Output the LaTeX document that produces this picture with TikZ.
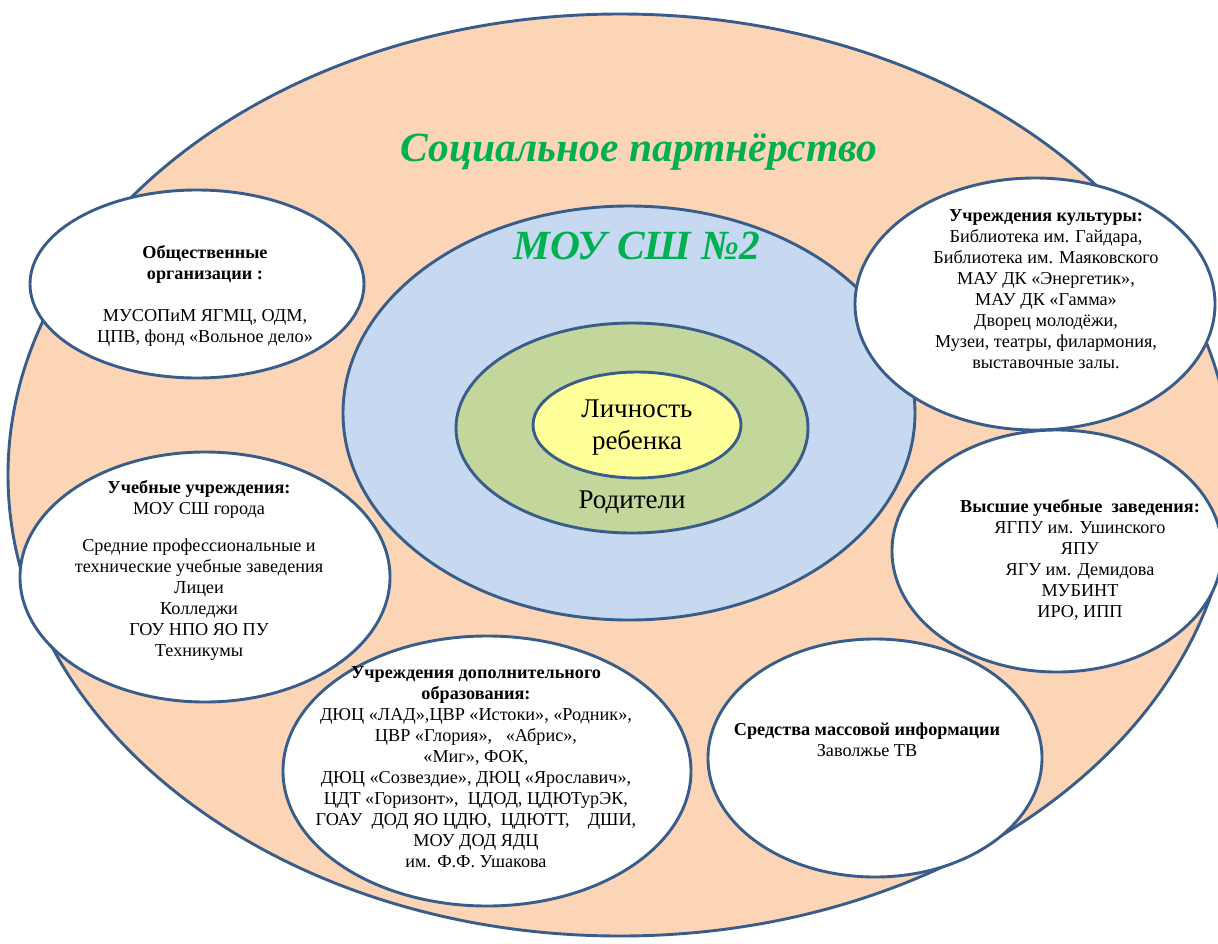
\documentclass[tikz,border=0pt]{standalone}
\usepackage{fontspec}
\setmainfont{Liberation Serif}
\usetikzlibrary{shapes.geometric}
\definecolor{peach}{HTML}{FBD5B5}
\definecolor{lblue}{HTML}{C6D9F1}
\definecolor{lgreen}{HTML}{C3D69B}
\definecolor{lyellow}{HTML}{FFFF99}
\definecolor{edgeblue}{HTML}{385D8A}
\definecolor{tgreen}{HTML}{00B050}
\begin{document}
\begin{tikzpicture}[x=1pt,y=-1pt,
  oval/.style={ellipse, draw=edgeblue, line width=2.9pt, inner sep=0pt, outer sep=0pt},
  wov/.style={oval, fill=white},
  body/.style={align=center, font=\fontsize{18.2}{21}\selectfont, inner sep=0pt, text=black},
  core/.style={align=center, font=\fontsize{27}{32}\selectfont, inner sep=0pt, text=black},
  headline/.style={font=\fontsize{41.5}{48}\selectfont\bfseries\itshape, text=tgreen, inner sep=0pt}]
\useasboundingbox (0,0) rectangle (1218,943);
% outer and concentric ellipses
\node[oval, fill=peach, minimum width=1224pt, minimum height=922pt] (outer) at (620,475) {};
\node[oval, fill=lblue, minimum width=572pt, minimum height=414pt] (school) at (629,413) {};
\node[oval, fill=lgreen, minimum width=352pt, minimum height=210pt] (parents) at (632,428) {};
\node[oval, fill=lyellow, minimum width=208pt, minimum height=106pt] (child) at (637,425) {};
% partner ellipses
\node[wov, minimum width=334pt, minimum height=188pt] (public) at (197,284) {};
\node[wov, minimum width=360pt, minimum height=252pt] (culture) at (1035,304) {};
\node[wov, minimum width=330pt, minimum height=242pt] (higher) at (1057,551) {};
\node[wov, minimum width=334pt, minimum height=238pt] (media) at (875,758) {};
\node[wov, minimum width=370pt, minimum height=250pt] (edu) at (205,577) {};
\node[wov, minimum width=408pt, minimum height=270pt] (extra) at (487,771) {};
% titles
\node[headline] (title) at (639,152) {Социальное партнёрство};
\node[headline] (schooltitle) at (637,246) {МОУ СШ №2};
\node[core] (childtxt) at (637,428) {Личность\\ребенка};
\node[core] (parenttxt) at (632,502) {Родители};
% texts
\node[body] (publictxt) at (205,296) {\textbf{Общественные}\\\textbf{организации :}\\[21pt]МУСОПиМ ЯГМЦ, ОДМ,\\ЦПВ, фонд «Вольное дело»};
\node[body] (culturetxt) at (1046,289) {\textbf{Учреждения культуры:}\\Библиотека им. Гайдара,\\Библиотека им. Маяковского\\МАУ ДК «Энергетик»,\\МАУ ДК «Гамма»\\Дворец молодёжи,\\Музеи, театры, филармония,\\выставочные залы.};
\node[body] (edutxt) at (199,570) {\textbf{Учебные учреждения:}\\МОУ СШ города\\[16pt]Средние профессиональные и\\технические учебные заведения\\Лицеи\\Колледжи\\ГОУ НПО ЯО ПУ\\Техникумы};
\node[body] (highertxt) at (1080,560) {\textbf{Высшие учебные\ \ заведения:}\\ЯГПУ им. Ушинского\\ЯПУ\\ЯГУ им. Демидова\\МУБИНТ\\ИРО, ИПП};
\node[body] (extratxt) at (476,767) {\textbf{Учреждения дополнительного}\\\textbf{образования:}\\ДЮЦ «ЛАД»,ЦВР «Истоки», «Родник»,\\ЦВР «Глория»,\ \ \ «Абрис»,\\«Миг», ФОК,\\ДЮЦ «Созвездие», ДЮЦ «Ярославич»,\\ЦДТ «Горизонт»,\ \ ЦДОД, ЦДЮТурЭК,\\ГОАУ\ \ ДОД ЯО ЦДЮ,\ \ ЦДЮТТ,\ \ \ \ ДШИ,\\МОУ ДОД ЯДЦ\\им. Ф.Ф. Ушакова};
\node[body] (mediatxt) at (867,740) {\textbf{Средства массовой информации}\\Заволжье ТВ};
\end{tikzpicture}
\end{document}
